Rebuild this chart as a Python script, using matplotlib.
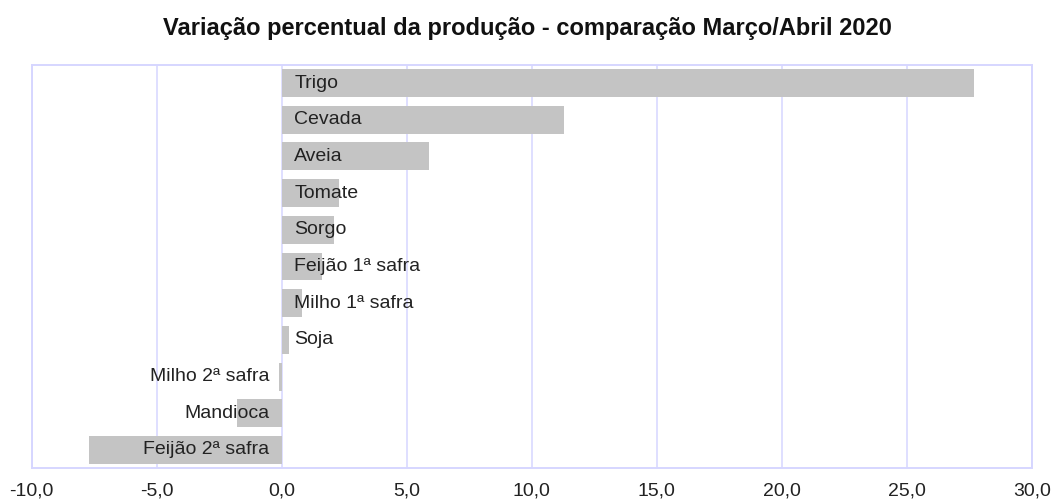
import matplotlib
matplotlib.use("Agg")
import matplotlib.pyplot as plt
import numpy as np

# Production change by crop (%), March vs April 2020
crops = ["Trigo", "Cevada", "Aveia", "Tomate", "Sorgo", "Feijão 1ª safra",
         "Milho 1ª safra", "Soja", "Milho 2ª safra", "Mandioca", "Feijão 2ª safra"]
variation = [27.7, 11.3, 5.9, 2.3, 2.1, 1.6, 0.8, 0.3, -0.1, -1.8, -7.7]
x_ticks = [-10, -5, 0, 5, 10, 15, 20, 25, 30]
x_tick_labels = ["-10,0", "-5,0", "0,0", "5,0", "10,0", "15,0", "20,0", "25,0", "30,0"]

plt.rcParams["font.family"] = ["Liberation Sans", "DejaVu Sans"]

grid_color = "#d6d6ff"
bar_color = "#c4c4c4"

fig = plt.figure(figsize=(10.52, 5.03), dpi=100)
ax = fig.add_axes([0.0301, 0.069, 0.9506, 0.8024])

y = np.arange(len(crops))
ax.barh(y, variation, height=0.76, color=bar_color, zorder=2)

# labels inside/next to bars, starting from zero line
for yi, name, v in zip(y, crops, variation):
    if v >= 0:
        ax.annotate(name, (0, yi), xytext=(9, 0), textcoords="offset points",
                    ha="left", va="center", fontsize=14, color="#222222", zorder=3)
    else:
        ax.annotate(name, (0, yi), xytext=(-9, 0), textcoords="offset points",
                    ha="right", va="center", fontsize=14, color="#222222", zorder=3)

ax.set_xlim(-10, 30)
ax.set_ylim(len(crops) - 0.5, -0.5)
ax.set_xticks(x_ticks)
ax.set_xticklabels(x_tick_labels, fontsize=14, color="#222222")
ax.set_yticks([])
ax.tick_params(axis="x", length=0, pad=10)
ax.grid(axis="x", color=grid_color, linewidth=1.1, zorder=0)
ax.set_axisbelow(True)
for s in ax.spines.values():
    s.set_color(grid_color)
    s.set_linewidth(1.4)

fig.text(0.501, 0.943, "Variação percentual da produção - comparação Março/Abril 2020",
         ha="center", va="center", fontsize=17, fontweight="bold", color="#111111")

fig.savefig("out.png", dpi=100)
